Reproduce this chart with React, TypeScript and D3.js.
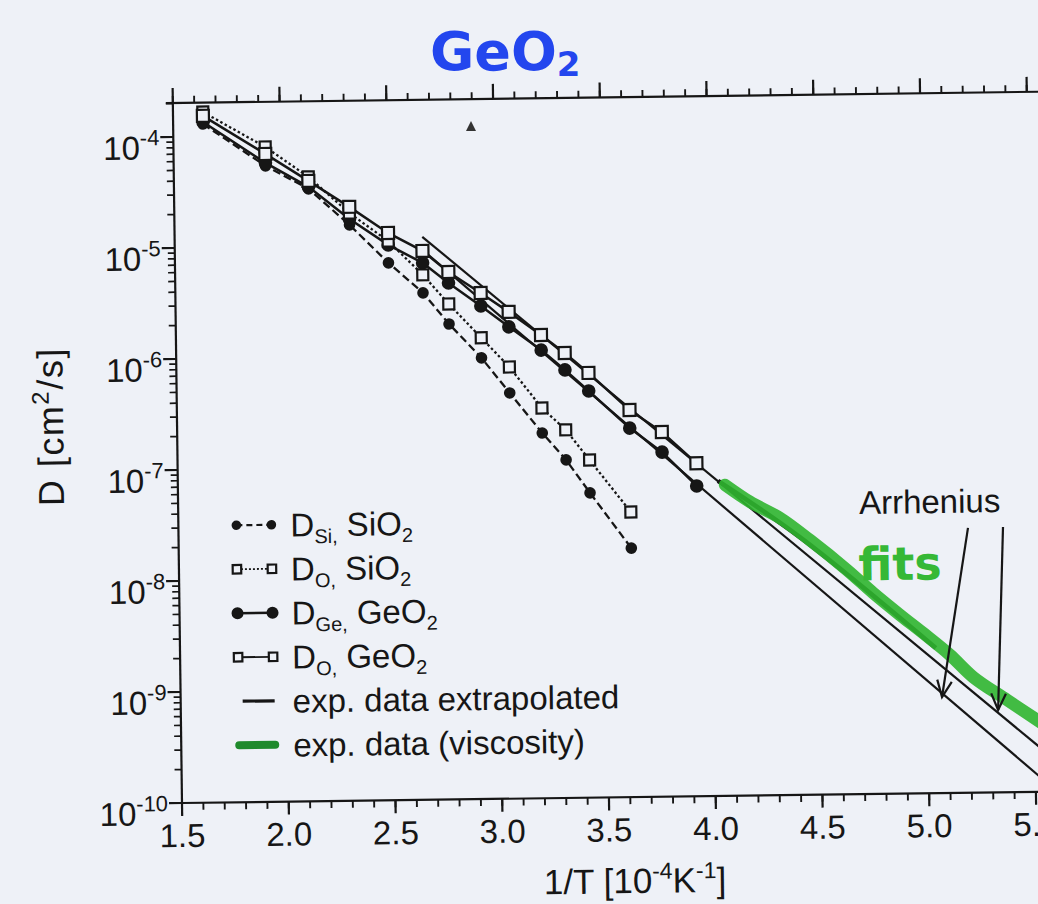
import React from 'react';
import * as d3 from 'd3';

// ---------- data ----------
const xGeO2 = [1.64, 1.93, 2.13, 2.32, 2.5, 2.66, 2.78, 2.93, 3.06, 3.21, 3.32, 3.43, 3.62, 3.77, 3.93];
const dOGeO2 = [1.54e-4, 6.87e-5, 3.88e-5, 2.24e-5, 1.29e-5, 8.81e-6, 5.65e-6, 3.62e-6, 2.43e-6, 1.49e-6, 1.02e-6, 6.7e-7, 3.07e-7, 1.93e-7, 1.0e-7];
const dGeGeO2 = [1.355e-4, 5.7e-5, 3.43e-5, 1.74e-5, 1.007e-5, 6.87e-6, 4.5e-6, 2.77e-6, 1.78e-6, 1.09e-6, 7.18e-7, 4.61e-7, 2.11e-7, 1.27e-7, 6.24e-8];
const xSiO2 = [1.64, 1.93, 2.13, 2.32, 2.5, 2.66, 2.78, 2.93, 3.06, 3.21, 3.32, 3.43, 3.62];
const dOSiO2 = [1.667e-4, 7.94e-5, 4.22e-5, 1.97e-5, 1.09e-5, 5.36e-6, 2.91e-6, 1.43e-6, 7.74e-7, 3.28e-7, 2.07e-7, 1.1e-7, 3.7e-8];
const dSiSiO2 = [1.3e-4, 5.36e-5, 3.29e-5, 1.54e-5, 6.93e-6, 3.69e-6, 1.92e-6, 9.42e-7, 4.52e-7, 1.95e-7, 1.11e-7, 5.56e-8, 1.75e-8];
const expOX = [2.66, 5.6];
const expOD = [1.18e-5, 1.87e-10];
const expGeX = [2.66, 5.6];
const expGeD = [9.0e-6, 1.0e-10];
const viscX = [4.063, 4.179, 4.318, 4.457, 4.629, 4.75, 4.875, 4.981, 5.106, 5.213, 5.37, 5.524];
const viscD = [6.32e-8, 4.42e-8, 3.14e-8, 1.97e-8, 1.05e-8, 6.46e-9, 4.06e-9, 2.78e-9, 1.75e-9, 1.1e-9, 6.78e-10, 4.25e-10];
const viscLineX = [4.03, 4.41, 5.04];
const viscLineD = [6.89e-8, 2.1e-8, 2.03e-9];
const xTickLabels = ['1.5', '2.0', '2.5', '3.0', '3.5', '4.0', '4.5', '5.0', '5.5'];
const yDecades = [-10, -9, -8, -7, -6, -5, -4];
const arrowFromX = [5.198, 5.362];
const arrowFromD = [2.43e-8, 2.45e-8];
const arrowToX = [5.066, 5.328];
const arrowToD = [7.33e-10, 5.51e-10];

const W = 1038;
const H = 904;
const INK = '#161616';
const BG = '#eef1f7';
const FONT = '"Liberation Sans", Arial, sans-serif';
const FS = 33;

export default function App() {
  const x = d3.scaleLinear().domain([1.5, 5.6]).range([0, 4.1 * 213.5]);
  const y = d3.scaleLog().domain([1e-10, Math.pow(10, -3.694)]).range([0, -700]);
  const top = y.range()[1];
  const line = d3.line<[number, number]>().x((d) => x(d[0])).y((d) => y(d[1]));
  const smooth = d3
    .line<[number, number]>()
    .x((d) => x(d[0]))
    .y((d) => y(d[1]))
    .curve(d3.curveCatmullRom);
  const zip = (xs: number[], ds: number[]) => xs.map((v, i) => [v, ds[i]] as [number, number]);

  const minorX = d3.range(15, 56).map((k) => k / 10);
  const majorX = xTickLabels.map((s) => +s);
  const minorY: number[] = [];
  for (let e = -10; e < -3; e++)
    for (let m = 2; m <= 9; m++) {
      const v = m * Math.pow(10, e);
      if (v < y.domain()[1]) minorY.push(v);
    }

  const sq = (cx: number, cy: number, s: number, key: string) => (
    <rect key={key} x={cx - s / 2} y={cy - s / 2} width={s} height={s} fill={BG} stroke={INK} strokeWidth={2.2} />
  );

  const legendRows = [
    { kind: 'si', main: 'D', sub: 'Si,', rest: ' SiO', sub2: '2' },
    { kind: 'osi', main: 'D', sub: 'O,', rest: ' SiO', sub2: '2' },
    { kind: 'ge', main: 'D', sub: 'Ge,', rest: ' GeO', sub2: '2' },
    { kind: 'oge', main: 'D', sub: 'O,', rest: ' GeO', sub2: '2' },
    { kind: 'exp', main: 'exp. data extrapolated' },
    { kind: 'visc', main: 'exp. data (viscosity)' },
  ];

  const arrows = arrowFromX.map((fx, i) => {
    const sx = x(fx), sy = y(arrowFromD[i]);
    const tx = x(arrowToX[i]), ty = y(arrowToD[i]);
    const a = Math.atan2(ty - sy, tx - sx);
    const L = 18, sp = 0.42;
    const h1 = [tx - L * Math.cos(a - sp), ty - L * Math.sin(a - sp)];
    const h2 = [tx - L * Math.cos(a + sp), ty - L * Math.sin(a + sp)];
    return { sx, sy, tx, ty, h1, h2 };
  });

  return (
    <svg width={W} height={H} style={{ position: 'absolute', left: 0, top: 0 }} fontFamily={FONT}>
      <rect width={W} height={H} fill={BG} />
      {/* handwritten title */}
      <text x={430} y={70} fontSize={54} fontWeight="bold" fill="#2346ee" fontFamily='"DejaVu Sans", sans-serif'>
        GeO<tspan fontSize={34} dy={6}>2</tspan>
      </text>
      {/* scan speck */}
      <path d="M466,131 L471,121 L476,131 Z" fill="#333" />
      <g transform="translate(182,803) rotate(-0.75)">
        {/* axes */}
        <line x1={0} x2={x(5.6)} y1={0} y2={0} stroke={INK} strokeWidth={2.2} />
        <line x1={-7} x2={x(5.6)} y1={top} y2={top} stroke={INK} strokeWidth={2.2} />
        <line x1={0} x2={0} y1={0} y2={top} stroke={INK} strokeWidth={2.2} />
        {minorX.map((v) => (
          <g key={'mx' + v}>
            <line x1={x(v)} x2={x(v)} y1={0} y2={7} stroke={INK} strokeWidth={1.9} />
            <line x1={x(v)} x2={x(v)} y1={top} y2={top - 7} stroke={INK} strokeWidth={1.9} />
          </g>
        ))}
        {majorX.map((v) => (
          <g key={'Mx' + v}>
            <line x1={x(v)} x2={x(v)} y1={0} y2={13} stroke={INK} strokeWidth={2.2} />
            <line x1={x(v)} x2={x(v)} y1={top} y2={top - 15} stroke={INK} strokeWidth={2.2} />
          </g>
        ))}
        {minorY.map((v) => (
          <line key={'my' + v} x1={0} x2={-7} y1={y(v)} y2={y(v)} stroke={INK} strokeWidth={1.7} />
        ))}
        {yDecades.map((e) => (
          <line key={'My' + e} x1={0} x2={-13} y1={y(Math.pow(10, e))} y2={y(Math.pow(10, e))} stroke={INK} strokeWidth={2.2} />
        ))}
        {/* tick labels */}
        {xTickLabels.map((s) => (
          <text key={'xl' + s} x={x(+s)} y={44} fontSize={FS} textAnchor="middle" fill={INK}>
            {s}
          </text>
        ))}
        {yDecades.map((e) => (
          <text key={'yl' + e} x={-14} y={y(Math.pow(10, e)) + 22} fontSize={FS} textAnchor="end" fill={INK}>
            10<tspan fontSize={22} dy={-14}>{String(e)}</tspan>
          </text>
        ))}
        {/* axis titles */}
        <text x={452} y={96} fontSize={35} textAnchor="middle" fill={INK}>
          1/T [10<tspan fontSize={23} dy={-14}>-4</tspan>
          <tspan dy={14}>K</tspan>
          <tspan fontSize={23} dy={-14}>-1</tspan>
          <tspan dy={14}>]</tspan>
        </text>
        <text transform={`translate(-114,-378) rotate(-90)`} fontSize={36} textAnchor="middle" fill={INK} letterSpacing={1.5}>
          D [cm<tspan fontSize={24} dy={-14}>2</tspan>
          <tspan dy={14}>/s]</tspan>
        </text>

        {/* experimental lines */}
        <path d={line(zip(expOX, expOD)) || ''} fill="none" stroke={INK} strokeWidth={2.2} />
        <path d={line(zip(expGeX, expGeD)) || ''} fill="none" stroke={INK} strokeWidth={2.2} />
        <path d={smooth(zip(viscLineX, viscLineD)) || ''} fill="none" stroke={INK} strokeWidth={4.5} />
        <path d={smooth(zip(viscX, viscD)) || ''} fill="none" stroke="#2fb52f" strokeWidth={12.5} strokeLinecap="round" opacity={0.9} />

        {/* simulation series */}
        <path d={line(zip(xSiO2, dSiSiO2)) || ''} fill="none" stroke={INK} strokeWidth={2.3} strokeDasharray="8,4" />
        <path d={line(zip(xSiO2, dOSiO2)) || ''} fill="none" stroke={INK} strokeWidth={2.3} strokeDasharray="2.5,2.5" />
        <path d={line(zip(xGeO2, dGeGeO2)) || ''} fill="none" stroke={INK} strokeWidth={2.5} />
        <path d={line(zip(xGeO2, dOGeO2)) || ''} fill="none" stroke={INK} strokeWidth={2.5} />
        {xSiO2.map((v, i) => (
          <circle key={'si' + i} cx={x(v)} cy={y(dSiSiO2[i])} r={5.8} fill={INK} />
        ))}
        {xGeO2.map((v, i) => (
          <circle key={'ge' + i} cx={x(v)} cy={y(dGeGeO2[i])} r={6.8} fill={INK} />
        ))}
        {xSiO2.map((v, i) => sq(x(v), y(dOSiO2[i]), 11, 'osi' + i))}
        {xGeO2.map((v, i) => sq(x(v), y(dOGeO2[i]), 12, 'oge' + i))}

        {/* annotations */}
        <text x={x(5.02)} y={y(3.34e-8)} fontSize={FS} textAnchor="middle" fill={INK}>
          Arrhenius
        </text>
        {arrows.map((a, i) => (
          <g key={'ar' + i} stroke={INK} strokeWidth={2.2} fill="none">
            <line x1={a.sx} y1={a.sy} x2={a.tx} y2={a.ty} />
            <polyline points={`${a.h1[0]},${a.h1[1]} ${a.tx},${a.ty} ${a.h2[0]},${a.h2[1]}`} />
          </g>
        ))}
        <text x={x(4.877)} y={y(8.4e-9)} fontSize={46} fontWeight="bold" textAnchor="middle" fill="#36b836" fontFamily='"DejaVu Sans", sans-serif'>
          fits
        </text>

        {/* legend */}
        {legendRows.map((r, i) => {
          const w = -277 + 44 * i;
          const u1 = 58, u2 = 93;
          let sym: React.ReactNode = null;
          if (r.kind === 'si')
            sym = (
              <g>
                <line x1={u1} x2={u2} y1={w} y2={w} stroke={INK} strokeWidth={2.2} strokeDasharray="6,4" />
                <circle cx={u1} cy={w} r={4.8} fill={INK} />
                <circle cx={u2} cy={w} r={4.8} fill={INK} />
              </g>
            );
          else if (r.kind === 'osi' || r.kind === 'oge')
            sym = (
              <g>
                <line x1={u1} x2={u2} y1={w} y2={w} stroke={INK} strokeWidth={1.8} strokeDasharray={r.kind === 'osi' ? '2,2' : undefined} />
                {sq(u1, w, 8.5, 'a')}
                {sq(u2, w, 8.5, 'b')}
              </g>
            );
          else if (r.kind === 'ge')
            sym = (
              <g>
                <line x1={u1} x2={u2} y1={w} y2={w} stroke={INK} strokeWidth={2.4} />
                <circle cx={u1} cy={w} r={6} fill={INK} />
                <circle cx={u2} cy={w} r={6} fill={INK} />
              </g>
            );
          else if (r.kind === 'exp')
            sym = <line x1={u1 + 4} x2={u2 + 1} y1={w} y2={w} stroke={INK} strokeWidth={3.2} />;
          else sym = <line x1={u1} x2={u2 + 1} y1={w} y2={w} stroke="#1f8a2c" strokeWidth={8} strokeLinecap="round" />;
          return (
            <g key={'lg' + i}>
              {sym}
              <text x={112} y={w + 12} fontSize={FS} fill={INK}>
                {r.main}
                {r.sub ? (
                  <>
                    <tspan fontSize={20} dy={7}>{r.sub}</tspan>
                    <tspan dy={-7}>{r.rest}</tspan>
                    <tspan fontSize={20} dy={7}>{r.sub2}</tspan>
                  </>
                ) : null}
              </text>
            </g>
          );
        })}
      </g>
    </svg>
  );
}
